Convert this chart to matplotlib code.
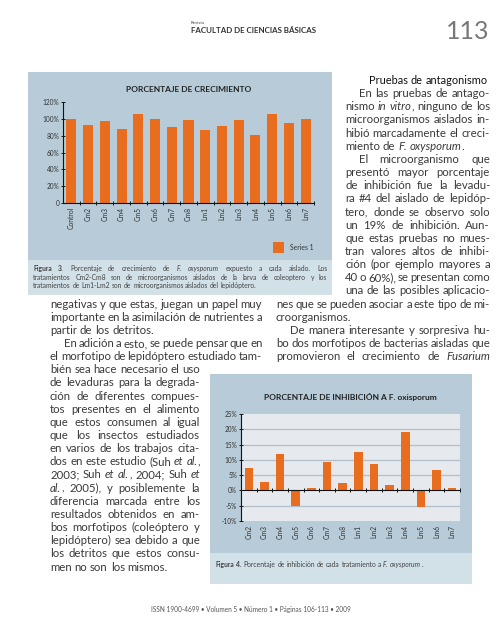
import matplotlib
matplotlib.use("Agg")
import matplotlib.pyplot as plt
from matplotlib.patches import Rectangle
import numpy as np

# ---------------- data ----------------
growth_categories = ["Control", "Cm2", "Cm3", "Cm4", "Cm5", "Cm6", "Cm7", "Cm8",
                     "Lm1", "Lm2", "Lm3", "Lm4", "Lm5", "Lm6", "Lm7"]
growth_values = [100, 93, 97, 88, 106, 100, 90, 98.5, 87, 91, 98.5, 81, 106, 94.5, 100]
growth_ticks = [0, 20, 40, 60, 80, 100, 120]
growth_tick_labels = ["0", "20%", "40%", "60%", "80%", "100%", "120%"]

inhib_categories = ["Cm2", "Cm3", "Cm4", "Cm5", "Cm6", "Cm7", "Cm8",
                    "Lm1", "Lm2", "Lm3", "Lm4", "Lm5", "Lm6", "Lm7"]
inhib_values = [7.2, 2.6, 12.0, -5.1, 0.9, 9.3, 2.4, 12.6, 8.6, 1.8, 19.2, -5.3, 6.6, 0.8]
inhib_ticks = [-10, -5, 0, 5, 10, 15, 20, 25]
inhib_tick_labels = ["-10%", "-5%", "0%", "5%", "10%", "15%", "20%", "25%"]

# body text (_ = italic toggle, * = bold toggle); kinds: head, indent, just, end
right_column = [
    ("Pruebas de antagonismo", "head"),
    ("En las pruebas de antago-", "indent"),
    ("nismo _in vitro_, ninguno de los", "just"),
    ("microorganismos aislados in-", "just"),
    ("hibió marcadamente el creci-", "just"),
    ("miento de _F. oxysporum_.", "end"),
    ("El microorganismo que", "indent"),
    ("presentó mayor porcentaje", "just"),
    ("de inhibición fue la levadu-", "just"),
    ("ra #4 del aislado de lepidóp-", "just"),
    ("tero, donde se observo solo", "just"),
    ("un 19% de inhibición. Aun-", "just"),
    ("que estas pruebas no mues-", "just"),
    ("tran valores altos de inhibi-", "just"),
    ("ción (por ejemplo mayores a", "just"),
    ("40 o 60%), se presentan como", "just"),
    ("una de las posibles aplicacio-", "just"),
    ("nes que se pueden asociar a este tipo de mi-", "just"),
    ("croorganismos.", "end"),
    ("De manera interesante y sorpresiva hu-", "indent"),
    ("bo dos morfotipos de bacterias aisladas que", "just"),
    ("promovieron el crecimiento de _Fusarium_", "just"),
]
left_column = [
    ("negativas y que estas, juegan un papel muy", "just"),
    ("importante en la asimilación de nutrientes a", "just"),
    ("partir de los detritos.", "end"),
    ("En adición a esto, se puede pensar que en", "indent"),
    ("el morfotipo de lepidóptero estudiado tam-", "just"),
    ("bién sea hace necesario el uso", "just"),
    ("de levaduras para la degrada-", "just"),
    ("ción de diferentes compues-", "just"),
    ("tos presentes en el alimento", "just"),
    ("que estos consumen al igual", "just"),
    ("que los insectos estudiados", "just"),
    ("en varios de los trabajos cita-", "just"),
    ("dos en este estudio (Suh _et al._,", "just"),
    ("2003; Suh _et al._, 2004; Suh _et_", "just"),
    ("_al._, 2005), y posiblemente la", "just"),
    ("diferencia marcada entre los", "just"),
    ("resultados obtenidos en am-", "just"),
    ("bos morfotipos (coleóptero y", "just"),
    ("lepidóptero) sea debido a que", "just"),
    ("los detritos que estos consu-", "just"),
    ("men no son los mismos.", "end"),
]
caption3 = [
    ("*Figura 3.* Porcentaje de crecimiento de _F. oxysporum_ expuesto a cada aislado. Los", "just"),
    ("tratamientos Cm2-Cm8 son de microorganismos aislados de la larva de coleoptero y los", "just"),
    ("tratamientos de Lm1-Lm2 son de microorganismos aislados del lepidóptero.", "end"),
]
caption4 = "*Figura 4.* Porcentaje de inhibición de cada tratamiento a _F. oxysporum_."

# ---------------- style ----------------
W, H = 500, 625
FONT = "Lato"
BODY = "#3a3a3a"
ORANGE = "#e96d1f"
PANEL = "#b7ccd8"
CAPBG = "#d2e0e8"
PLOTBG = "#e6e9ee"
GRID = "#b3bfcb"

fig = plt.figure(figsize=(W / 100, H / 100), dpi=100)
fig.patch.set_facecolor("white")
renderer = fig.canvas.get_renderer()


def px_axes(x0, y0, x1, y1):
    return fig.add_axes([x0 / W, 1 - y1 / H, (x1 - x0) / W, (y1 - y0) / H])


def px_rect(x0, y0, x1, y1, color, z=-5):
    fig.patches.append(Rectangle((x0 / W, 1 - y1 / H), (x1 - x0) / W, (y1 - y0) / H,
                                 transform=fig.transFigure, facecolor=color,
                                 edgecolor="none", zorder=z))


def px_text(x, y, s, **kw):
    return fig.text(x / W, 1 - y / H, s, **kw)


def parse_words(line):
    words = []
    ital = False
    bold = False
    for tok in line.split(" "):
        if not tok:
            continue
        pieces, cur = [], ""
        for ch in tok:
            if ch == "_":
                if cur:
                    pieces.append((cur, ital, bold))
                    cur = ""
                ital = not ital
            elif ch == "*":
                if cur:
                    pieces.append((cur, ital, bold))
                    cur = ""
                bold = not bold
            else:
                cur += ch
        if cur:
            pieces.append((cur, ital, bold))
        words.append(pieces)
    return words


def width_of(t):
    return t.get_window_extent(renderer).width


def space_width(size):
    a = px_text(0, 0, "a a", fontsize=size, family=FONT)
    b = px_text(0, 0, "aa", fontsize=size, family=FONT)
    w = width_of(a) - width_of(b)
    a.remove()
    b.remove()
    return w


def draw_line(line, x0, x1, y, size, justify, color=BODY):
    words = parse_words(line)
    placed, total = [], 0.0
    for w in words:
        pcs, wt = [], 0.0
        for s, it, bd in w:
            t = px_text(0, y, s, fontsize=size, family=FONT,
                        style="italic" if it else "normal",
                        weight="bold" if bd else "normal",
                        color=color, va="baseline", ha="left")
            wd = width_of(t)
            pcs.append((t, wd))
            wt += wd
        placed.append(pcs)
        total += wt
    n = len(placed)
    sp = space_width(size)
    gap = (x1 - x0 - total) / (n - 1) if (justify and n > 1) else sp
    gap = max(gap, 0.6 * sp)
    x = x0
    for pcs in placed:
        for t, wd in pcs:
            t.set_position((x / W, 1 - y / H))
            x += wd
        x += gap


def draw_column(lines, y0, step, spans, size, indent=14, head_indent=24):
    for i, (txt, kind) in enumerate(lines):
        x0, x1 = spans(i)
        y = y0 + i * step
        if kind == "head":
            draw_line(txt, x0 + head_indent, x1, y, size - 0.3, False, color="#111111")
        elif kind == "indent":
            draw_line(txt, x0 + indent, x1, y, size, True)
        elif kind == "just":
            draw_line(txt, x0, x1, y, size, True)
        else:
            draw_line(txt, x0, x1, y, size, False)


# ---------------- header / footer ----------------
px_text(191, 24, "Revista", fontsize=3.2, family=FONT, color="#444")
px_text(191, 33, "FACULTAD DE CIENCIAS BÁSICAS", fontsize=5.7, family=FONT,
        weight="bold", color="#333", va="baseline")
px_text(489, 39, "113", fontsize=18, family=FONT, color="#777777",
        ha="right", va="baseline")
px_text(251, 612, "ISSN 1900-4699 • Volumen 5 • Número 1 • Páginas 106-113 • 2009",
        fontsize=4.7, family=FONT, color="#555", ha="center", va="baseline")

# ---------------- body text ----------------
BODY_SIZE = 8.2
STEP = 13.15
Y0 = 84
draw_column(right_column, Y0, STEP,
            lambda i: (345, 490) if i < 17 else (276, 490), BODY_SIZE)
draw_column(left_column, Y0 + 17 * STEP, STEP,
            lambda i: (50, 262) if i < 5 else (50, 200), BODY_SIZE)

# ---------------- Figure 3 ----------------
px_rect(28, 72, 332, 295, PANEL)
px_rect(28, 260, 332, 295, CAPBG)
px_text(189, 89, "PORCENTAJE DE CRECIMIENTO", fontsize=6.0, family=FONT, weight="bold",
        color="#222", ha="center", va="center")
ax1 = px_axes(63, 102, 314, 203)
x1 = np.arange(len(growth_categories))
ax1.bar(x1, growth_values, width=0.6, color=ORANGE, zorder=2)
ax1.set_xlim(-0.5, len(growth_categories) - 0.5)
ax1.set_ylim(0, 120)
ax1.patch.set_visible(False)
for s in ["top", "right"]:
    ax1.spines[s].set_visible(False)
for s in ["left", "bottom"]:
    ax1.spines[s].set_linewidth(0.8)
    ax1.spines[s].set_color("#111")
ax1.set_yticks(growth_ticks)
ax1.set_yticklabels(growth_tick_labels, fontsize=4.7, family=FONT, color="#333")
ax1.set_xticks(x1)
ax1.set_xticklabels(growth_categories, rotation=90, fontsize=4.9, family=FONT, color="#333")
ax1.set_xticks(np.arange(len(growth_categories)) + 0.5, minor=True)
ax1.tick_params(axis="x", which="major", length=0, pad=3)
ax1.tick_params(axis="x", which="minor", length=2.5, width=0.6, direction="inout")
ax1.tick_params(axis="y", length=2.5, width=0.6, pad=1.5, direction="inout")
# legend
px_rect(273, 242, 284, 253, ORANGE, z=-4)
px_text(290, 248, "Series 1", fontsize=4.9, family=FONT, color="#333", va="center")
for i, (txt, kind) in enumerate(caption3):
    draw_line(txt, 33, 327, 271 + i * 8.7, 4.9, kind == "just", color="#444")

# ---------------- Figure 4 ----------------
px_rect(210, 374, 472, 584, PANEL)
px_rect(210, 553, 472, 584, CAPBG)
px_text(350, 397, "PORCENTAJE DE INHIBICIÓN A F. oxisporum", fontsize=6.0, family=FONT,
        weight="bold", color="#222", ha="center", va="center")
ax2 = px_axes(241, 414, 460, 521)
x2 = np.arange(len(inhib_categories))
ax2.set_facecolor(PLOTBG)
ax2.set_xlim(-0.5, len(inhib_categories) - 0.5)
ax2.set_ylim(-10, 25)
for yv in inhib_ticks[1:-1]:
    if yv != 0:
        ax2.axhline(yv, color=GRID, lw=0.9, zorder=1)
ax2.bar(x2, inhib_values, width=0.55, color=ORANGE, zorder=2)
ax2.axhline(0, color="#111", lw=0.8, zorder=3)
bounds = np.arange(len(inhib_categories)) + 0.5
ax2.plot(bounds, np.zeros_like(bounds), ls="none", marker="|", ms=3.5, mew=0.7,
         color="#111", zorder=4)
for s in ["top", "right", "bottom"]:
    ax2.spines[s].set_visible(False)
ax2.spines["left"].set_linewidth(0.8)
ax2.spines["left"].set_color("#111")
ax2.set_yticks(inhib_ticks)
ax2.set_yticklabels(inhib_tick_labels, fontsize=4.7, family=FONT, color="#333")
ax2.set_xticks(x2)
ax2.set_xticklabels(inhib_categories, rotation=90, fontsize=4.9, family=FONT, color="#333")
ax2.tick_params(axis="x", length=0, pad=3)
ax2.tick_params(axis="y", length=2.5, width=0.6, pad=1.5, direction="inout")
draw_line(caption4, 216, 468, 567, 4.9, False, color="#444")

fig.savefig("out.png", dpi=100)
